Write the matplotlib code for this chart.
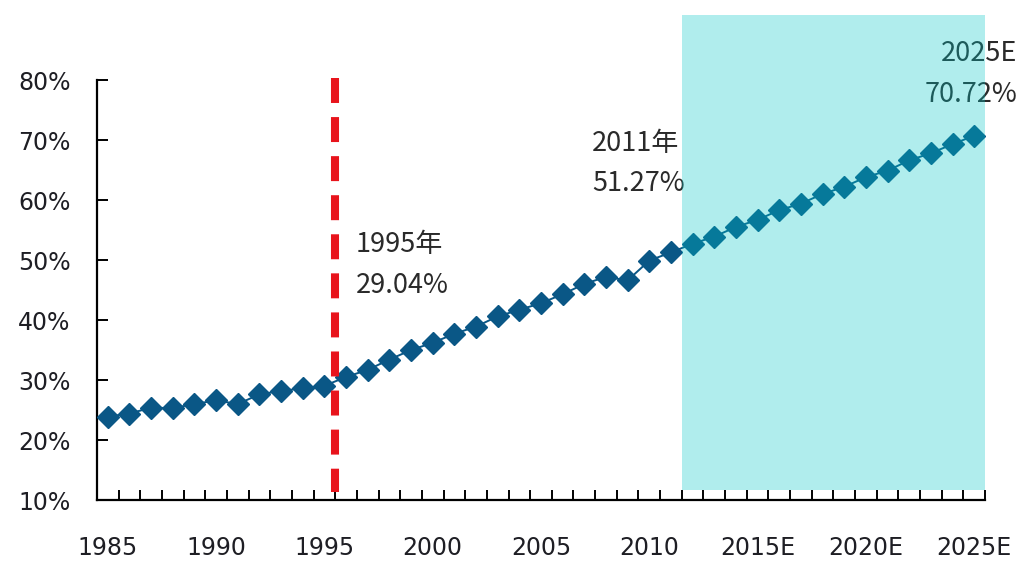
import matplotlib
matplotlib.use("Agg")
import matplotlib.pyplot as plt
from matplotlib.ticker import FixedLocator, FuncFormatter

# urbanisation rate by year, 2012 onwards are estimates
years = [str(y) for y in range(1985, 2012)] + [f"{y}E" for y in range(2012, 2026)]
urban_rate = [23.9, 24.4, 25.4, 25.3, 26.0, 26.6, 26.0, 27.6, 28.2, 28.6,
              29.04, 30.5, 31.7, 33.4, 35.0, 36.2, 37.7, 38.9, 40.6, 41.7,
              42.8, 44.3, 46.0, 47.2, 46.6, 49.9, 51.27, 52.7, 53.9, 55.5,
              56.7, 58.3, 59.4, 61.0, 62.2, 63.8, 64.9, 66.6, 67.8, 69.3,
              70.72]
y_ticks = [10, 20, 30, 40, 50, 60, 70, 80]
label_every = 5

marked_years = ["1995", "2011", "2025E"]
marked_text = ["1995年\n29.04%", "2011年\n51.27%", "2025E\n70.72%"]

BLUE = "#0a5786"
RED = "#e8141c"
TEXT = "#1e1e24"

fig = plt.figure(figsize=(10.21, 5.61), dpi=100)
ax = fig.add_axes([97 / 1021, 61 / 561, 888 / 1021, 486 / 561])

x = list(range(len(years)))
ax.plot(x, urban_rate, color=BLUE, lw=1.4, marker="D", ms=11,
        mec=BLUE, mfc=BLUE, zorder=3)

# 1995 divider, drawn top-down so the dash pattern starts at the top
split = years.index("1995") + 0.5
ax.plot([split, split], [80.3, 11.3], color=RED, lw=5.8,
        linestyle=(0, (3.1, 1.75)), solid_capstyle="butt", zorder=4)

# forecast period shading, laid over the series
fc_start = years.index("2012E") - 0.5
ax.fill_between([fc_start, len(years) - 0.5], 11.7, 90.8,
                color="#00c8c8", alpha=0.31, lw=0, zorder=5)

offsets = {"1995": (31, 121, "left"), "2011": (-79, 89, "left"),
           "2025E": (43, 62, "right")}
for yr, txt in zip(marked_years, marked_text):
    i = years.index(yr)
    dx, dy, ha = offsets[yr]
    ax.annotate(txt, xy=(i, urban_rate[i]), xytext=(dx, dy),
                textcoords="offset pixels", ha=ha, va="center",
                multialignment=ha, linespacing=1.65, fontsize=19.5,
                color="#2a2a2a", family=["Noto Sans CJK SC", "DejaVu Sans"],
                zorder=4)

ax.set_xlim(-0.5, len(years) - 0.5)
ax.set_ylim(10, 91)

ax.xaxis.set_major_locator(FixedLocator(x[::label_every]))
ax.set_xticklabels(years[::label_every])
ax.xaxis.set_minor_locator(FixedLocator([i - 0.5 for i in range(len(years) + 1)]))
ax.tick_params(axis="x", which="major", length=0, pad=26, labelsize=17,
               labelcolor=TEXT)
ax.tick_params(axis="x", which="minor", direction="in", length=7, width=1.4)

ax.set_yticks(y_ticks)
ax.yaxis.set_major_formatter(FuncFormatter(lambda v, _: f"{v:.0f}%"))
ax.tick_params(axis="y", direction="in", length=8, width=1.4, pad=19,
               labelsize=17, labelcolor=TEXT)

for lab in ax.get_xticklabels() + ax.get_yticklabels():
    lab.set_family("DejaVu Sans")

for side in ["top", "right"]:
    ax.spines[side].set_visible(False)
ax.spines["left"].set_bounds(10, 80)
ax.spines["left"].set_linewidth(1.6)
ax.spines["bottom"].set_linewidth(1.6)

fig.savefig("out.png", dpi=100)
